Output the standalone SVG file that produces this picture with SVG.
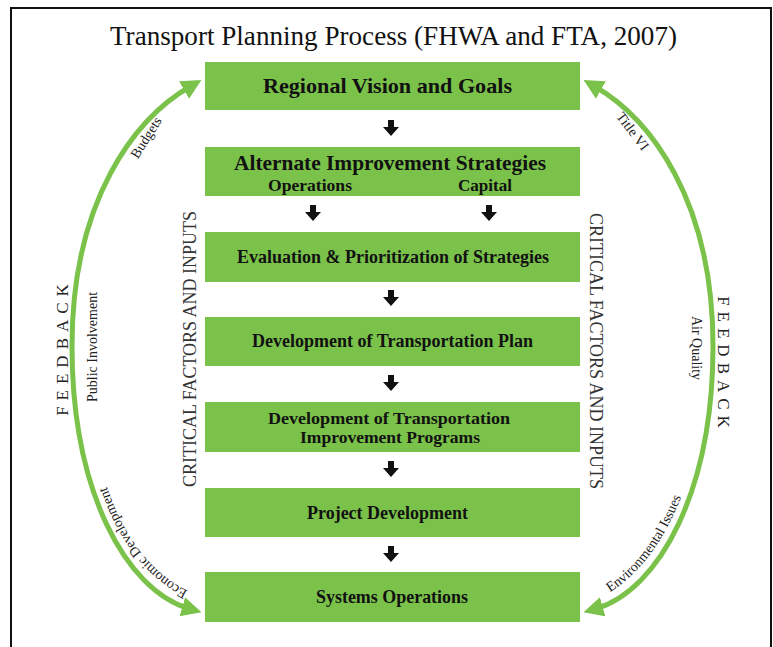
<svg xmlns="http://www.w3.org/2000/svg" width="773" height="647" viewBox="0 0 773 647">
<style>
.bx{fill:#7bc24a}
.bt{font-family:"Liberation Serif","Times New Roman",serif;font-weight:bold;fill:#111;text-anchor:middle}
.lt{font-family:"Liberation Serif","Times New Roman",serif;fill:#111}
.fb{font-family:"Liberation Serif","Times New Roman",serif;fill:#222;font-size:17px;letter-spacing:6px;text-anchor:middle}
.cr{font-family:"Liberation Serif","Times New Roman",serif;fill:#333;font-size:18px;text-anchor:middle}
.sm{font-family:"Liberation Serif","Times New Roman",serif;fill:#222;font-size:14px}
.fl{fill:none;stroke:#7bc24a;stroke-width:5}
.da{fill:#111}
</style>
<defs>
<marker id="ga" markerUnits="userSpaceOnUse" markerWidth="22" markerHeight="22" refX="8" refY="11" orient="auto-start-reverse" viewBox="0 0 22 22">
<path d="M0,1 L20,11 L0,21 z" fill="#7bc24a"/>
</marker>
<path id="da" d="M-3,-8 h6 v7 h5 l-8,9 l-8,-9 h5 z"/>
<path id="edp" d="M204.5,597.7 C134.5,575.7 87,490 87,346"/>
<path id="eip" d="M583,605 C652,583 706,490 706,346"/>
</defs>
<rect x="11" y="8" width="760" height="660" fill="#fff" stroke="#111" stroke-width="2"/>
<text x="393.5" y="45" class="lt" font-size="27" text-anchor="middle" textLength="567" lengthAdjust="spacingAndGlyphs">Transport Planning Process (FHWA and FTA, 2007)</text>

<g id="connectors">
<path class="fl" d="M190,609 C125,590 72,490 72,346 C72,200 135,118 191,86" marker-start="url(#ga)" marker-end="url(#ga)"/>
<path class="fl" d="M595,609 C660,590 713,490 713,346 C713,200 650,118 594,86" marker-start="url(#ga)" marker-end="url(#ga)"/>
<use href="#da" class="da" x="391" y="128"/>
<use href="#da" class="da" x="313" y="213"/>
<use href="#da" class="da" x="489" y="213"/>
<use href="#da" class="da" x="391" y="298"/>
<use href="#da" class="da" x="391" y="383"/>
<use href="#da" class="da" x="391" y="469"/>
<use href="#da" class="da" x="391" y="554"/>
</g>

<g id="n1"><rect class="bx" x="205" y="62" width="375" height="48"/><text class="bt" x="387.5" y="93" font-size="22" textLength="249" lengthAdjust="spacingAndGlyphs">Regional Vision and Goals</text></g>
<g id="n2"><rect class="bx" x="205" y="147" width="375" height="49"/><text class="bt" x="390" y="170" font-size="21" textLength="312" lengthAdjust="spacingAndGlyphs">Alternate Improvement Strategies</text><text class="bt" x="310" y="191" font-size="17" textLength="84" lengthAdjust="spacingAndGlyphs">Operations</text><text class="bt" x="485" y="191" font-size="17" textLength="54" lengthAdjust="spacingAndGlyphs">Capital</text></g>
<g id="n3"><rect class="bx" x="205" y="232" width="375" height="50"/><text class="bt" x="393" y="263" font-size="18.5" textLength="312" lengthAdjust="spacingAndGlyphs">Evaluation &amp; Prioritization of Strategies</text></g>
<g id="n4"><rect class="bx" x="205" y="317" width="375" height="49"/><text class="bt" x="392.5" y="347" font-size="18.5" textLength="281" lengthAdjust="spacingAndGlyphs">Development of Transportation Plan</text></g>
<g id="n5"><rect class="bx" x="205" y="402" width="375" height="50"/><text class="bt" x="389" y="424" font-size="17.5" textLength="242" lengthAdjust="spacingAndGlyphs">Development of Transportation</text><text class="bt" x="390" y="443" font-size="17.5" textLength="180" lengthAdjust="spacingAndGlyphs">Improvement Programs</text></g>
<g id="n6"><rect class="bx" x="205" y="488" width="375" height="49"/><text class="bt" x="387.5" y="519" font-size="18.5" textLength="161" lengthAdjust="spacingAndGlyphs">Project Development</text></g>
<g id="n7"><rect class="bx" x="205" y="572" width="375" height="50"/><text class="bt" x="392" y="603" font-size="18.5" textLength="152" lengthAdjust="spacingAndGlyphs">Systems Operations</text></g>

<g id="labels">
<text class="cr" transform="translate(196,349) rotate(-90)">CRITICAL FACTORS AND INPUTS</text>
<text class="cr" transform="translate(590,351) rotate(90)">CRITICAL FACTORS AND INPUTS</text>
<text class="fb" transform="translate(68,347) rotate(-90)">FEEDBACK</text>
<text class="fb" transform="translate(718,365) rotate(90)">FEEDBACK</text>
<text class="sm" text-anchor="middle" transform="translate(97,347) rotate(-90)">Public Involvement</text>
<text class="sm" text-anchor="middle" transform="translate(692,348) rotate(90)">Air Quality</text>
<text class="sm" text-anchor="middle" transform="translate(150,140) rotate(-58)">Budgets</text>
<text class="sm" text-anchor="middle" transform="translate(629,134) rotate(53)">Title VI</text>
<text class="sm"><textPath href="#edp" startOffset="18">Economic Development</textPath></text>
<text class="sm"><textPath href="#eip" startOffset="30">Environmental Issues</textPath></text>
</g>
</svg>
